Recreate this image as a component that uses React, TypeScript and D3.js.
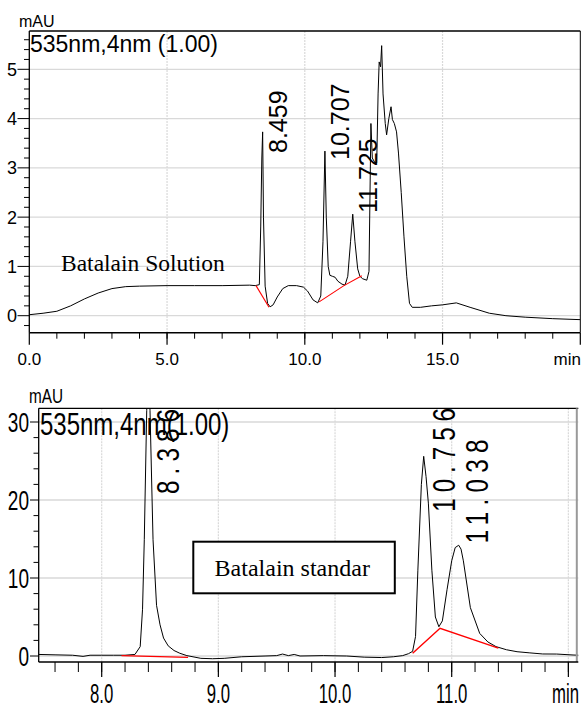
import React from 'react'
import * as d3 from 'd3'

// ---- upper run: Batalain Solution ----
const solTime = [0, 0.5, 1.0, 1.5, 2.0, 2.5, 3.0, 3.5, 4.0, 5.0, 6.0, 7.0, 8.0, 8.2, 8.35, 8.4, 8.44, 8.47, 8.5, 8.56, 8.65, 8.74, 8.85, 9.0, 9.2, 9.4, 9.7, 9.95, 10.1, 10.3, 10.47, 10.58, 10.66, 10.73, 10.78, 10.85, 10.91, 11.0, 11.1, 11.2, 11.35, 11.46, 11.56, 11.66, 11.74, 11.82, 11.92, 12.0, 12.1, 12.25, 12.33, 12.4, 12.45, 12.55, 12.61, 12.66, 12.7, 12.75, 12.79, 12.84, 12.92, 12.97, 13.05, 13.13, 13.18, 13.25, 13.33, 13.4, 13.5, 13.6, 13.7, 13.8, 13.9, 14.2, 14.6, 15.0, 15.5, 16.0, 16.7, 17.3, 18.0, 19.0, 20.0]
const solAbs = [0.02, 0.05, 0.09, 0.2, 0.34, 0.46, 0.55, 0.59, 0.6, 0.61, 0.61, 0.61, 0.62, 0.61, 0.63, 1.8, 3.2, 3.73, 2.0, 0.6, 0.25, 0.18, 0.22, 0.38, 0.55, 0.61, 0.61, 0.58, 0.5, 0.32, 0.26, 0.4, 1.5, 3.34, 2.0, 1.0, 0.82, 0.8, 0.78, 0.7, 0.64, 0.62, 0.8, 1.5, 2.06, 1.5, 0.95, 0.8, 0.75, 0.72, 0.9, 3.9, 3.2, 3.1, 3.1, 4.5, 5.15, 5.05, 5.48, 4.5, 3.9, 3.67, 4.0, 4.24, 3.98, 3.9, 3.73, 3.3, 2.5, 1.6, 0.8, 0.25, 0.17, 0.17, 0.2, 0.22, 0.26, 0.17, 0.05, 0.0, -0.03, -0.06, -0.08]
const solBaseTime = [[8.23, 8.7], [10.52, 11.42, 12.07]]
const solBaseAbs = [[0.61, 0.17], [0.28, 0.61, 0.81]]
const solPeakTime = [8.459, 10.707, 11.725]
const solPeakLabel = ['8.459', '10.707', '11.725']
const solXTicks = [0, 5, 10, 15]
const solXLabels = ['0.0', '5.0', '10.0', '15.0']
const solYTicks = [0, 1, 2, 3, 4, 5]

// ---- lower run: Batalain standar ----
const stdTime = [7.46, 7.6, 7.75, 7.84, 7.9, 8.0, 8.1, 8.2, 8.285, 8.33, 8.35, 8.365, 8.386, 8.4, 8.414, 8.44, 8.47, 8.5, 8.53, 8.57, 8.62, 8.67, 8.73, 8.85, 8.95, 9.05, 9.2, 9.4, 9.5, 9.55, 9.6, 9.65, 9.7, 9.9, 10.1, 10.25, 10.4, 10.5, 10.58, 10.63, 10.665, 10.69, 10.71, 10.74, 10.76, 10.78, 10.8, 10.83, 10.86, 10.89, 10.92, 10.96, 11.0, 11.03, 11.06, 11.08, 11.1, 11.16, 11.24, 11.31, 11.38, 11.47, 11.56, 11.67, 11.78, 11.9, 12.04, 12.09]
const stdAbs = [0.2, 0.15, 0.1, -0.05, 0.1, 0.1, 0.1, 0.1, 0.2, 1.2, 6, 14.9, 31.5, 36, 31.5, 14.9, 6.5, 4.0, 2.3, 1.3, 0.7, 0.35, 0.05, -0.3, -0.35, -0.3, -0.1, 0.0, 0.05, 0.25, 0.05, 0.2, 0.0, 0.05, 0.0, -0.15, -0.2, -0.1, 0.05, 0.3, 0.6, 2.5, 11, 22, 25.6, 23, 19.6, 11, 5, 3.75, 4.5, 8.5, 12.2, 13.9, 14.2, 13.7, 12.2, 6.2, 2.9, 1.8, 1.2, 0.8, 0.55, 0.4, 0.26, 0.25, 0.13, 0.1]
const stdBaseTime = [[8.17, 8.74], [10.665, 10.9, 11.4]]
const stdBaseAbs = [[0.05, -0.17], [0.35, 3.55, 1.0]]
const stdPeakTime = [8.386, 10.756, 11.038]
const stdPeakLabel = ['8.386', '10.756', '11.038']
const stdXTicks = [8, 9, 10, 11]
const stdXLabels = ['8.0', '9.0', '10.0', '11.0']
const stdYTicks = [0, 10, 20, 30]

const sans = 'Liberation Sans, Arial, sans-serif'
const serif = 'Liberation Serif, Times New Roman, serif'

function trace(x, y, ts, vs) {
  const pts = ts.map((t, i) => [t, vs[i]])
  return d3.line().x(d => x(d[0])).y(d => y(d[1]))(pts)
}

function range(a, b, step) {
  const out = []
  for (let v = a; v <= b + 1e-9; v += step) out.push(+v.toFixed(3))
  return out
}

export default function App() {
  // upper frame
  const L1 = 29.3, R1 = 580.3, T1 = 31, B1 = 332.7
  const x1 = d3.scaleLinear().domain([0, 20]).range([L1, R1])
  const y1 = d3.scaleLinear().domain([0, 5]).range([315.7, 69.3])

  // lower frame
  const L2 = 38.7, R2 = 578.3, T2 = 408.3, B2 = 662
  const x2 = d3.scaleLinear().domain([8, 11]).range([101.7, 451.7])
  const y2 = d3.scaleLinear().domain([0, 30]).range([656, 422])

  const grid = '#d9d9d9'
  const topLabelY = [153, 160, 213]
  const botLabelY = [494, 511.7, 543.3]

  return (
    <svg width={586} height={709} style={{ position: 'absolute', left: 0, top: 0, background: '#fff' }}>
      <defs>
        <clipPath id="clipTop"><rect x={L1} y={T1} width={R1 - L1} height={B1 - T1} /></clipPath>
        <clipPath id="clipBot"><rect x={L2} y={T2} width={R2 - L2} height={B2 - T2} /></clipPath>
      </defs>

      {/* ===== upper chart ===== */}
      <g>
        {solYTicks.map(v => (
          <line key={'hg' + v} x1={L1} x2={R1} y1={y1(v)} y2={y1(v)} stroke={grid} strokeWidth={1.3} />
        ))}
        {[5, 10, 15].map(t => (
          <line key={'vg' + t} x1={x1(t)} x2={x1(t)} y1={T1} y2={B1} stroke={grid} strokeWidth={1.2} strokeDasharray="2,1" />
        ))}
        <path d={trace(x1, y1, solTime, solAbs)} fill="none" stroke="#000" strokeWidth={1} clipPath="url(#clipTop)" />
        {solBaseTime.map((ts, i) => (
          <path key={'sb' + i} d={trace(x1, y1, ts, solBaseAbs[i])} fill="none" stroke="#ff0000" strokeWidth={1.1} />
        ))}
        <line x1={L1} x2={R1} y1={T1} y2={T1} stroke="#000" strokeWidth={1.3} />
        <line x1={R1} x2={R1} y1={T1} y2={B1} stroke="#000" strokeWidth={1} />
        <line x1={L1} x2={L1} y1={T1} y2={B1} stroke="#000" strokeWidth={1.3} />
        <line x1={L1} x2={R1} y1={B1} y2={B1} stroke="#000" strokeWidth={1.5} />
        {range(-0.2, 5.6, 0.2).map(v => {
          const major = Math.abs(v - Math.round(v)) < 1e-6
          return <line key={'yt' + v} x1={major ? 17.5 : 24} x2={L1} y1={y1(v)} y2={y1(v)} stroke="#000" strokeWidth={1} />
        })}
        {solYTicks.map(v => (
          <text key={'yl' + v} x={17} y={y1(v)} dy="0.36em" textAnchor="end" fontFamily={sans} fontSize={18}>{v}</text>
        ))}
        {range(1, 19, 1).map(t => (
          <line key={'xt' + t} x1={x1(t)} x2={x1(t)} y1={B1} y2={B1 + 6} stroke="#000" strokeWidth={1} />
        ))}
        {[0, 5, 10, 15, 20].map(t => (
          <line key={'xT' + t} x1={x1(t)} x2={x1(t)} y1={B1} y2={B1 + 12} stroke="#000" strokeWidth={1.2} />
        ))}
        {solXTicks.map((t, i) => (
          <text key={'xl' + t} x={x1(t)} y={365} textAnchor="middle" fontFamily={sans} fontSize={17}>{solXLabels[i]}</text>
        ))}
        <text x={581} y={365} textAnchor="end" fontFamily={sans} fontSize={17}>min</text>
        <text x={19} y={27} fontFamily={sans} fontSize={16}>mAU</text>
        <text x={30} y={52} fontFamily={sans} fontSize={23}>535nm,4nm (1.00)</text>
        {solPeakTime.map((t, i) => (
          <text key={'pk' + i} transform={`translate(${x1(t) + 24.5},${topLabelY[i]}) rotate(-90)`} fontFamily={sans} fontSize={25}>{solPeakLabel[i]}</text>
        ))}
        <text x={61} y={271} fontFamily={serif} fontSize={23.5}>Batalain Solution</text>
      </g>

      {/* ===== lower chart ===== */}
      <g>
        {stdYTicks.map(v => (
          <line key={'hg2' + v} x1={L2} x2={R2} y1={y2(v)} y2={y2(v)} stroke={grid} strokeWidth={1.3} />
        ))}
        {[8, 9, 10, 11, 12].map(t => (
          <line key={'vg2' + t} x1={x2(t)} x2={x2(t)} y1={T2} y2={B2} stroke={grid} strokeWidth={1.2} strokeDasharray="2,1" />
        ))}
        <path d={trace(x2, y2, stdTime, stdAbs)} fill="none" stroke="#000" strokeWidth={1} clipPath="url(#clipBot)" />
        {stdBaseTime.map((ts, i) => (
          <path key={'bb' + i} d={trace(x2, y2, ts, stdBaseAbs[i])} fill="none" stroke="#ff0000" strokeWidth={1.4} />
        ))}
        <line x1={L2} x2={R2} y1={T2} y2={T2} stroke="#000" strokeWidth={1.3} />
        <line x1={R2 - 1.5} x2={R2 - 1.5} y1={T2} y2={B2} stroke="#999" strokeWidth={2} />
        <line x1={L2} x2={L2} y1={T2} y2={B2} stroke="#000" strokeWidth={1.3} />
        <line x1={L2} x2={R2} y1={B2} y2={B2} stroke="#000" strokeWidth={1.5} />
        {range(0, 30, 2).map(v => {
          const major = v % 10 === 0
          return <line key={'yt2' + v} x1={major ? 30 : 33.5} x2={L2} y1={y2(v)} y2={y2(v)} stroke="#000" strokeWidth={1} />
        })}
        {stdYTicks.map(v => (
          <text key={'yl2' + v} transform={`translate(29,${y2(v)}) scale(0.68,1)`} dy="0.36em" textAnchor="end" fontFamily={sans} fontSize={28}>{v}</text>
        ))}
        {range(7.6, 12, 0.2).map(t => (
          <line key={'xt2' + t} x1={x2(t)} x2={x2(t)} y1={B2} y2={B2 + 10} stroke="#000" strokeWidth={1} />
        ))}
        {[8, 9, 10, 11, 12].map(t => (
          <line key={'xT2' + t} x1={x2(t)} x2={x2(t)} y1={B2} y2={B2 + 15} stroke="#000" strokeWidth={1.2} />
        ))}
        {stdXTicks.map((t, i) => (
          <text key={'xl2' + t} transform={`translate(${x2(t)},703) scale(0.62,1)`} textAnchor="middle" fontFamily={sans} fontSize={27}>{stdXLabels[i]}</text>
        ))}
        <text transform="translate(579,703) scale(0.62,1)" textAnchor="end" fontFamily={sans} fontSize={27}>min</text>
        <text transform="translate(29,403) scale(0.73,1)" fontFamily={sans} fontSize={21}>mAU</text>
        <text transform="translate(40,435) scale(0.75,1)" fontFamily={sans} fontSize={32}>535nm,4nm(1.00)</text>
        {stdPeakTime.map((t, i) => (
          <text key={'pk2' + i} transform={`translate(${x2(t) + 32},${botLabelY[i]}) rotate(-90) scale(0.78,1)`} fontFamily={sans} fontSize={31} textLength={i === 0 ? 109 : 133} lengthAdjust="spacing">{stdPeakLabel[i]}</text>
        ))}
        <rect x={193.3} y={541.7} width={201.5} height={51.6} fill="#fff" stroke="#000" strokeWidth={2} />
        <text x={214.6} y={575.5} fontFamily={serif} fontSize={24}>Batalain standar</text>
      </g>
    </svg>
  )
}
